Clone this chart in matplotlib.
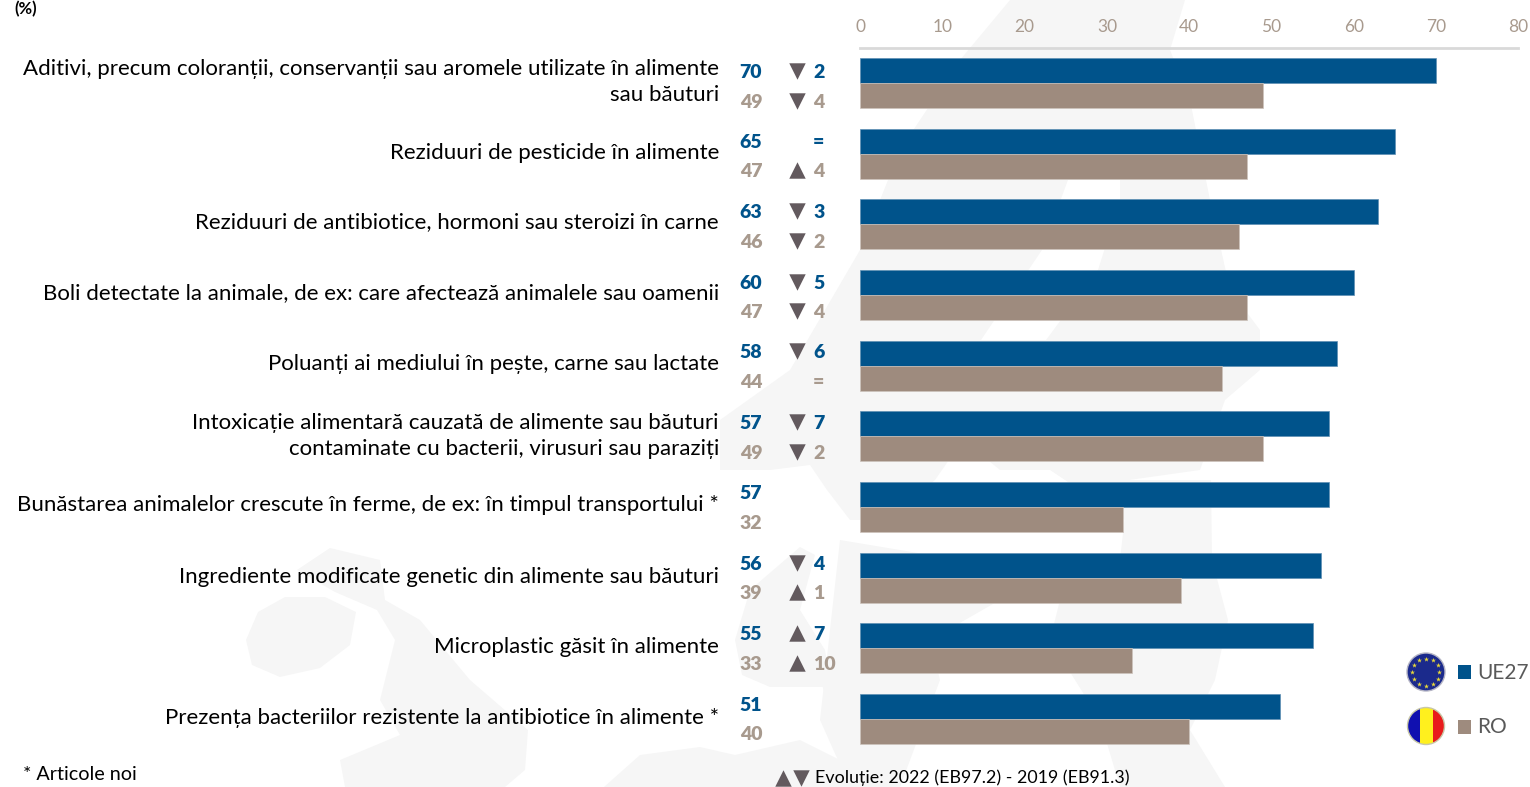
import matplotlib
matplotlib.use('Agg')
import matplotlib.pyplot as plt
from matplotlib.patches import Circle, Polygon, Rectangle
import numpy as np

plt.rcParams['font.family'] = ['Lato', 'Open Sans', 'DejaVu Sans']

#data
labels = ['Aditivi, precum coloranții, conservanții sau aromele utilizate în alimente\nsau băuturi',
          'Reziduuri de pesticide în alimente',
          'Reziduuri de antibiotice, hormoni sau steroizi în carne',
          'Boli detectate la animale, de ex: care afectează animalele sau oamenii',
          'Poluanți ai mediului în pește, carne sau lactate',
          'Intoxicație alimentară cauzată de alimente sau băuturi\ncontaminate cu bacterii, virusuri sau paraziți',
          'Bunăstarea animalelor crescute în ferme, de ex: în timpul transportului *',
          'Ingrediente modificate genetic din alimente sau băuturi',
          'Microplastic găsit în alimente',
          'Prezența bacteriilor rezistente la antibiotice în alimente *']
eu_values = [70, 65, 63, 60, 58, 57, 57, 56, 55, 51]
ro_values = [49, 47, 46, 47, 44, 49, 32, 39, 33, 40]
#evolution, None = no earlier value, 0 = unchanged
eu_change = [-2, 0, -3, -5, -6, -7, None, -4, 7, None]
ro_change = [-4, 4, -2, -4, 0, -2, None, 1, 10, None]
ticks = [0, 10, 20, 30, 40, 50, 60, 70, 80]

#colours
blue = '#00538B'
brown = '#9E8B7E'
brown_text = '#A89A8E'
tri_color = '#635A5E'
map_color = '#F6F6F6'

#pixel rows of the value columns
eu_rows = [71, 141, 211, 282, 351, 422, 492, 563, 633, 704]
ro_rows = [101, 170, 241, 311, 381, 452, 522, 592, 663, 733]
label_rows = [82, 153, 222, 293, 364, 436, 505, 577, 647, 718]

#faint map behind the chart, in picture pixels
map_shapes = [
    [(246, 640), (258, 612), (285, 597), (325, 597), (356, 612), (350, 645), (320, 668), (280, 677), (252, 665)],
    [(297, 570), (330, 548), (380, 560), (385, 600), (420, 620), (470, 680), (528, 730), (525, 770), (505, 787), (345, 787),
     (340, 760), (400, 735), (380, 700), (395, 640), (377, 610), (335, 592)],
    [(604, 787), (640, 755), (700, 747), (735, 755), (800, 740), (860, 770), (860, 787)],
    [(735, 640), (750, 590), (800, 547), (815, 555), (800, 610), (825, 650), (831, 687), (770, 687), (742, 675)],
    [(815, 660), (850, 650), (870, 670), (860, 700), (825, 695)],
    [(720, 420), (790, 370), (860, 250), (900, 150), (960, 60), (1010, 0), (1185, 0), (1170, 50), (1190, 100), (1210, 200),
     (1230, 290), (1260, 330), (1260, 370), (1225, 400), (1200, 470), (1129, 480), (1125, 520), (1050, 470), (1000, 470), (963, 440),
     (935, 480), (885, 520), (850, 520), (827, 490), (810, 465), (770, 470), (720, 470)],
    [(1129, 480), (1211, 480), (1212, 560), (1228, 620), (1215, 680), (1190, 730), (1225, 787), (1120, 787), (1100, 720), (1050, 640), (1060, 600), (1120, 560)],
    [(840, 540), (960, 560), (1000, 600), (930, 640), (940, 680), (900, 787), (850, 787), (820, 720)],
]
gulf_shape = [(1068, 180), (1120, 180), (1120, 200), (1098, 270), (1046, 340), (981, 340), (1042, 250)]

fig = plt.figure(figsize=(15.3, 7.87), dpi=100)

#full picture axes in pixel coordinates for everything outside the plot
bg = fig.add_axes([0, 0, 1, 1], zorder=0)
bg.set_xlim(0, 1530)
bg.set_ylim(787, 0)
bg.axis('off')

for shape in map_shapes:
    bg.add_patch(Polygon(shape, closed=True, fc=map_color, ec='none'))
bg.add_patch(Polygon(gulf_shape, closed=True, fc='white', ec='none'))

#bar axes
left, right, top, bottom = 860, 1518.4, 47.7, 754.3
ax = fig.add_axes([left/1530, 1-bottom/787, (right-left)/1530, (bottom-top)/787], zorder=1)
ax.patch.set_alpha(0)
y = np.arange(len(labels))
h = 0.354
ax.barh(y-h/2, eu_values, height=h, color=blue, edgecolor='#5E8FB3', linewidth=0.5)
ax.barh(y+h/2, ro_values, height=h, color=brown, edgecolor='#CDC3BC', linewidth=0.5)
ax.set_xlim(0, 80)
ax.set_ylim(len(labels)-0.5, -0.5)
ax.set_yticks([])
ax.xaxis.tick_top()
ax.set_xticks(ticks)
ax.tick_params(axis='x', length=0, pad=9, labelsize=12.5, labelcolor=brown_text)
for s in ['left', 'right', 'bottom']:
    ax.spines[s].set_visible(False)
ax.spines['top'].set_color('#D9D9D9')
ax.spines['top'].set_linewidth(2)

#unit note, only its top shows at the edge of the reference
bg.text(14, 9, '(%)', ha='left', va='center', fontsize=12, fontweight='bold', color='black')

#category labels
for lab, r in zip(labels, label_rows):
    bg.text(719, r, lab, ha='right', va='center', fontsize=16, color='black', linespacing=1.4)


def draw_change(row, change, color):
    if change is None:
        return
    if change == 0:
        bg.text(813, row+1.5, '=', ha='left', va='center', fontsize=14, fontweight='heavy', color=color)
        return
    bg.scatter([797], [row], marker='^' if change > 0 else 'v', s=140, color=tri_color, linewidths=0)
    bg.text(813, row+1.5, str(abs(change)), ha='left', va='center', fontsize=14, fontweight='heavy', color=color)


for i in range(len(labels)):
    bg.text(751, eu_rows[i]+1.5, str(eu_values[i]), ha='center', va='center', fontsize=14, fontweight='heavy', color=blue)
    bg.text(751, ro_rows[i]+1.5, str(ro_values[i]), ha='center', va='center', fontsize=14, fontweight='heavy', color=brown_text)
    draw_change(eu_rows[i], eu_change[i], blue)
    draw_change(ro_rows[i], ro_change[i], brown_text)

#notes at the bottom
bg.text(23, 775, '* Articole noi', ha='left', va='center', fontsize=14.2, color='black')
bg.scatter([783], [778], marker='^', s=140, color=tri_color, linewidths=0, clip_on=False)
bg.scatter([801], [778], marker='v', s=140, color=tri_color, linewidths=0, clip_on=False)
bg.text(815, 778, 'Evoluție: 2022 (EB97.2) - 2019 (EB91.3)', ha='left', va='center', fontsize=12.9, color='black')

#legend with the two round flags
bg.add_patch(Circle((1426, 672), 19, fc='#1B2A8C', ec='#B5B5C5', lw=1))
star_angles = np.deg2rad(np.arange(0, 360, 30))
bg.scatter(1426+13.5*np.cos(star_angles), 672+13.5*np.sin(star_angles), marker='*', s=14, color='#E8D93A', linewidths=0)
bg.add_patch(Rectangle((1458, 665), 13, 14, fc=blue, ec='none'))
bg.text(1477, 673, 'UE27', ha='left', va='center', fontsize=15, color='#595959')

flag = Circle((1426, 726), 18.5, transform=bg.transData)
for x0, c in zip([1407, 1420, 1433], ['#1010B0', '#FFF01E', '#E81C1C']):
    stripe = Rectangle((x0, 706), 13, 40, fc=c, ec='none')
    bg.add_patch(stripe)
    stripe.set_clip_path(flag)
bg.add_patch(Circle((1426, 726), 18.5, fc='none', ec='#C8C8A8', lw=1))
bg.add_patch(Rectangle((1458, 720), 13, 14, fc=brown, ec='none'))
bg.text(1477, 727, 'RO', ha='left', va='center', fontsize=15, color='#595959')

fig.savefig('out.png', dpi=100)
